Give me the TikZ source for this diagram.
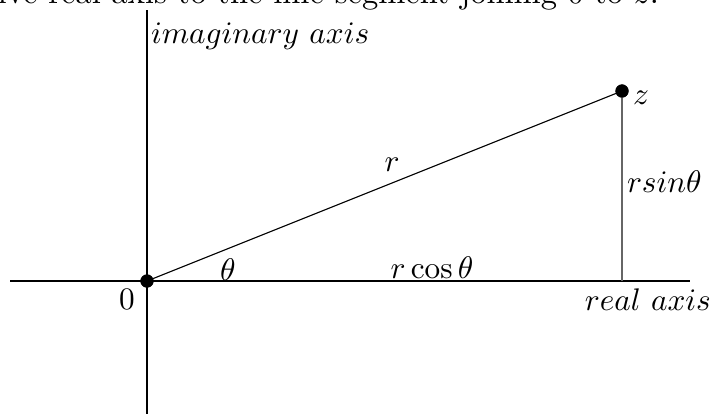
\documentclass[tikz,border=0pt]{standalone}
\usetikzlibrary{positioning}

\tikzset{
  punto/.style={circle, fill=black, inner sep=0pt, minimum size=4.2pt},
  etiq/.style={inner sep=0pt}
}

\begin{document}
\begin{tikzpicture}[x=0.32pt, y=-0.32pt, line width=0.65pt]
  \useasboundingbox (0,0) rectangle (714,414);
  \clip (0,0) rectangle (714,414);
  % linea de texto cortada arriba
  \node[etiq, anchor=base east, font=\fontsize{10.4pt}{12pt}\selectfont] (texto) at (660,3)
    {positive real axis to the line segment joining $0$ to $z$.};
  % ejes
  \coordinate (ytop) at (147,10);
  \coordinate (ybot) at (147,414);
  \coordinate (xl) at (10,281);
  \coordinate (xr) at (690,281);
  \draw (ytop) -- (ybot);
  \draw (xl) -- (xr);
  % puntos 0 y z
  \node[punto] (o) at (147,281) {};
  \node[punto] (z) at (622,91) {};
  \coordinate (pie) at (622,281);
  % segmentos
  \draw[line width=0.35pt] (o.center) -- (z.center);
  \draw[line width=0.45pt, black!60] (z.center) -- (pie);
  \node[punto] at (o) {};
  \node[punto] at (z) {};
  % etiquetas
  \node[etiq, anchor=base west] (imag) at (150,43) {$imaginary\ axis$};
  \node[etiq, anchor=west] (zlab) at (632,98) {$z$};
  \node[etiq, anchor=west] (sinlab) at (626,182) {$r sin\theta$};
  \node[etiq] (rlab) at (392,165) {$r$};
  \node[etiq] (thlab) at (228,270) {$\theta$};
  \node[etiq] (coslab) at (432,268) {$r\cos\theta$};
  \node[etiq] (cero) at (127,299) {$0$};
  \node[etiq, anchor=east] (real) at (712,300) {$real\ axis$};
\end{tikzpicture}
\end{document}
